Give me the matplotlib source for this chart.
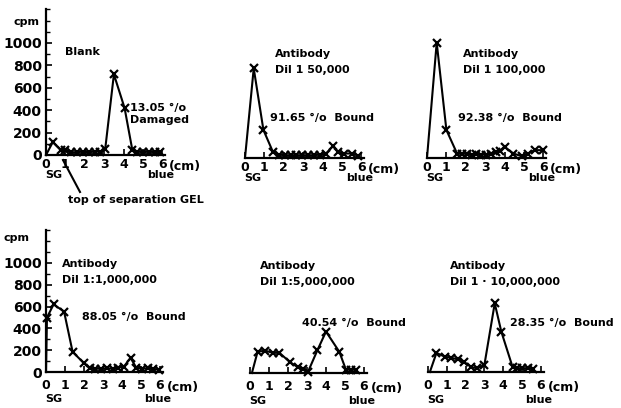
import matplotlib
matplotlib.use("Agg")
import matplotlib.pyplot as plt
from matplotlib.lines import Line2D
from matplotlib.ticker import MultipleLocator, FixedLocator

plt.rcParams['font.family'] = ['DejaVu Sans']
plt.rcParams['font.weight'] = 'bold'

# ---- data (distance in cm, radioactivity in cpm) ----
blank_x = [0.0, 0.35, 0.75, 1.0, 1.3, 1.6, 1.9, 2.2, 2.5, 2.8, 3.05, 3.5, 4.05, 4.45, 4.7, 5.0, 5.3, 5.6, 5.9]
blank_y = [0, 115, 45, 45, 25, 25, 30, 25, 30, 30, 50, 720, 420, 45, 30, 25, 30, 25, 30]

ab50k_x = [0.0, 0.45, 0.95, 1.45, 1.75, 2.05, 2.35, 2.65, 2.95, 3.25, 3.55, 3.85, 4.15, 4.55, 4.8, 5.1, 5.5, 5.85]
ab50k_y = [0, 800, 250, 50, 30, 25, 25, 25, 25, 25, 25, 30, 35, 110, 50, 40, 40, 20]

ab100k_x = [0.0, 0.5, 1.0, 1.55, 1.8, 2.05, 2.3, 2.55, 2.8, 3.05, 3.3, 3.55, 3.75, 4.0, 4.45, 4.9, 5.2, 5.55, 6.0]
ab100k_y = [0, 1030, 250, 40, 35, 40, 30, 35, 30, 30, 40, 50, 60, 100, 40, 15, 40, 70, 70]

ab1m_x = [0.0, 0.05, 0.4, 0.95, 1.4, 2.0, 2.3, 2.6, 2.9, 3.2, 3.5, 3.8, 4.1, 4.45, 4.75, 5.05, 5.35, 5.65, 5.95]
ab1m_y = [0, 500, 620, 555, 185, 80, 35, 30, 30, 35, 30, 40, 50, 130, 40, 30, 35, 30, 20]

ab5m_x = [0.1, 0.4, 0.8, 1.2, 1.55, 2.1, 2.5, 2.8, 3.05, 3.55, 4.0, 4.7, 5.05, 5.3, 5.6]
ab5m_y = [0, 195, 205, 185, 185, 100, 55, 35, 10, 210, 380, 195, 30, 30, 30]

ab10m_x = [0.1, 0.45, 0.9, 1.25, 1.6, 1.9, 2.3, 2.6, 3.0, 3.55, 3.9, 4.5, 4.75, 5.0, 5.3, 5.6]
ab10m_y = [0, 175, 140, 130, 115, 95, 45, 35, 65, 630, 370, 45, 35, 35, 35, 30]

x_ticks = [0, 1, 2, 3, 4, 5, 6]
y_ticks = [0, 200, 400, 600, 800, 1000]

titles = ["Blank", "Antibody\nDil 1 50,000", "Antibody\nDil 1 100,000",
          "Antibody\nDil 1:1,000,000", "Antibody\nDil 1:5,000,000", "Antibody\nDil 1 · 10,000,000"]
results = ["13.05 °/o\nDamaged", "91.65 °/o  Bound", "92.38 °/o  Bound",
           "88.05 °/o  Bound", "40.54 °/o  Bound", "28.35 °/o  Bound"]

W, H = 621, 408
fig = plt.figure(figsize=(W / 100, H / 100), dpi=100)
fig.patch.set_facecolor('white')

XMAX = 6.15
YMAX = 1300


def make_ax(x0, base, pxcm, pxcpm, left, pad):
    w = XMAX * pxcm
    h = YMAX * pxcpm
    ax = fig.add_axes([x0 / W, (H - base) / H, w / W, h / H])
    ax.set_xlim(0, XMAX)
    ax.set_ylim(0, YMAX)
    ax.patch.set_alpha(0)
    for s in ['top', 'right']:
        ax.spines[s].set_visible(False)
    ax.spines['bottom'].set_linewidth(1.6)
    ax.xaxis.set_major_locator(FixedLocator(x_ticks))
    ax.set_xticklabels([str(t) for t in x_ticks], fontsize=9, fontweight='bold')
    ax.tick_params(axis='x', direction='in', length=4, width=1.2, pad=pad)
    if left:
        ax.spines['left'].set_linewidth(1.6)
        ax.yaxis.set_major_locator(FixedLocator(y_ticks))
        ax.yaxis.set_minor_locator(MultipleLocator(100))
        ax.set_yticklabels([str(t) for t in y_ticks], fontsize=10, fontweight='bold')
        ax.tick_params(axis='y', which='major', direction='in', length=4, width=1.2, pad=3)
        ax.tick_params(axis='y', which='minor', direction='in', length=3, width=1.0)
    else:
        ax.spines['left'].set_visible(False)
        ax.set_yticks([])
    return ax


# pixel geometry: (x of 0 cm, baseline y, px per cm, px per cpm, left axis, label pad, SG/blue offset)
panels = [
    (46, 155, 19.4, 0.112, True, 2, 20, blank_x, blank_y),
    (245, 158, 19.4, 0.112, False, 2, 20, ab50k_x, ab50k_y),
    (427, 158, 19.4, 0.112, False, 2, 20, ab100k_x, ab100k_y),
    (46, 372, 19.0, 0.109, True, 5, 27, ab1m_x, ab1m_y),
    (250, 373, 19.0, 0.109, False, 5, 28, ab5m_x, ab5m_y),
    (428, 372, 18.8, 0.109, False, 5, 28, ab10m_x, ab10m_y),
]

for (x0, base, pxcm, pxcpm, left, pad, off, xs, ys) in panels:
    ax = make_ax(x0, base, pxcm, pxcpm, left, pad)
    ax.plot(xs, ys, color='black', lw=1.5, marker='x', ms=5.5, mew=1.6,
            markevery=list(range(1, len(xs))), clip_on=False)
    ax.annotate("(cm)", xy=(6.35, 0), xytext=(0, -pad - 1.5), textcoords='offset points',
                ha='left', va='top', fontsize=9, fontweight='bold', annotation_clip=False)
    ax.annotate("SG", xy=(0.4, 0), xytext=(0, -off * 0.72), textcoords='offset points',
                ha='center', va='center', fontsize=8, fontweight='bold', annotation_clip=False)
    ax.annotate("blue", xy=(5.9, 0), xytext=(0, -off * 0.72), textcoords='offset points',
                ha='center', va='center', fontsize=8, fontweight='bold', annotation_clip=False)


def ftext(x, y, s, size=8, **kw):
    fig.text(x / W, 1 - y / H, s, fontsize=size, fontweight='bold', va='center', ha='left', **kw)


# axis unit labels
ftext(13, 22, "cpm", 8)
ftext(3, 238, "cpm", 8)

# panel titles
title_pos = [(65, 52), (275, 62), (463, 62), (62, 272), (260, 274), (450, 274)]
for (tx, ty), t in zip(title_pos, titles):
    ftext(tx, ty, t, 8, linespacing=1.65)

# result annotations
res_pos = [(130, 114), (270, 118), (458, 118), (82, 317), (302, 323), (510, 323)]
for (rx, ry), t in zip(res_pos, results):
    ftext(rx, ry, t, 8, linespacing=1.3)

# top of separation gel pointer
ftext(68, 200, "top of separation GEL", 8)
fig.add_artist(Line2D([63 / W, 80 / W], [1 - 160 / H, 1 - 192 / H], color='black', lw=1.5))

fig.savefig("out.png", dpi=100, facecolor='white')
